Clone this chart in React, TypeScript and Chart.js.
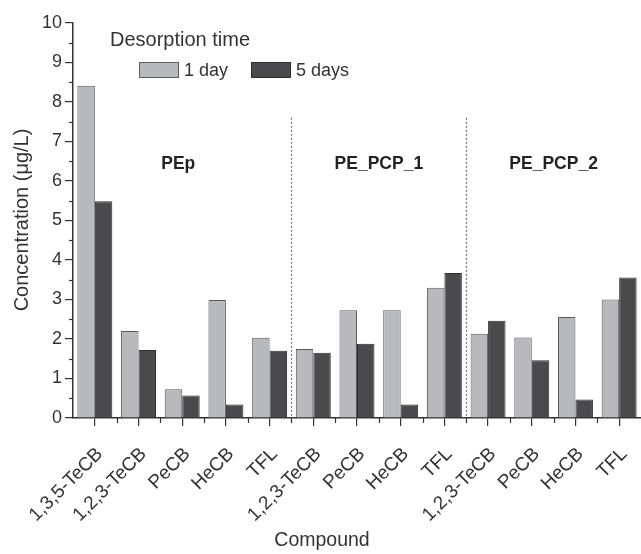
import { useEffect, useRef } from 'react';
import { Chart, registerables } from 'chart.js';
Chart.register(...registerables);

const categories = [
  '1,3,5-TeCB', '1,2,3-TeCB', 'PeCB', 'HeCB', 'TFL',
  '1,2,3-TeCB', 'PeCB', 'HeCB', 'TFL',
  '1,2,3-TeCB', 'PeCB', 'HeCB', 'TFL',
];
const seriesLabels = ['1 day', '5 days'];
const oneDay = [8.41, 2.2, 0.73, 2.99, 2.03, 1.75, 2.73, 2.73, 3.3, 2.13, 2.04, 2.56, 3.0];
const fiveDays = [5.49, 1.72, 0.57, 0.34, 1.7, 1.65, 1.88, 0.34, 3.67, 2.46, 1.46, 0.47, 3.56];
const groupNames = ['PEp', 'PE_PCP_1', 'PE_PCP_2'];
const groupFirst = [0, 5, 9];
const groupLast = [4, 8, 12];
const legendTitle = 'Desorption time';
const xTitle = 'Compound';
const yTitle = 'Concentration (\u03bcg/L)';
const yMin = 0;
const yMax = 10;
const yStep = 1;

const FONT = '"Liberation Sans", Arial, sans-serif';
const TXT = '#333';
const LIGHT = '#b8b9bd';
const LIGHT_BORDER = '#5a5a5a';
const DARK = '#4a4a4c';
const DARK_BORDER = '#2e2e2e';

export default function App() {
  const ref = useRef<HTMLCanvasElement>(null);
  useEffect(() => {
    if (!ref.current) return;
    const decor = {
      id: 'decor',
      afterDatasetsDraw(chart: any) {
        const ctx = chart.ctx;
        const xs = chart.scales.x;
        const ys = chart.scales.y;
        const ca = chart.chartArea;
        ctx.save();
        // minor ticks
        ctx.strokeStyle = '#333';
        ctx.lineWidth = 1.2;
        for (let v = yMin + yStep / 2; v < yMax; v += yStep) {
          const py = Math.round(ys.getPixelForValue(v)) + 0.5;
          ctx.beginPath();
          ctx.moveTo(ca.left - 4, py);
          ctx.lineTo(ca.left, py);
          ctx.stroke();
        }
        for (let i = 0; i < categories.length - 1; i++) {
          const px = Math.round((xs.getPixelForValue(i) + xs.getPixelForValue(i + 1)) / 2) + 0.5;
          ctx.beginPath();
          ctx.moveTo(px, ca.bottom);
          ctx.lineTo(px, ca.bottom + 5);
          ctx.stroke();
        }
        // group dividers
        ctx.strokeStyle = '#777';
        ctx.lineWidth = 1.2;
        ctx.setLineDash([2, 2]);
        for (let g = 1; g < groupNames.length; g++) {
          const px = Math.round((xs.getPixelForValue(groupLast[g - 1]) + xs.getPixelForValue(groupFirst[g])) / 2) + 0.5;
          ctx.beginPath();
          ctx.moveTo(px, ys.getPixelForValue(7.6));
          ctx.lineTo(px, ca.bottom);
          ctx.stroke();
        }
        ctx.setLineDash([]);
        // group labels
        ctx.fillStyle = '#222';
        ctx.font = `bold 17.5px ${FONT}`;
        ctx.textAlign = 'center';
        ctx.textBaseline = 'middle';
        for (let g = 0; g < groupNames.length; g++) {
          const cx = (xs.getPixelForValue(groupFirst[g]) + xs.getPixelForValue(groupLast[g])) / 2;
          ctx.fillText(groupNames[g], cx - (g === 0 ? 4 : 0), ys.getPixelForValue(6.43));
        }
        // legend
        ctx.fillStyle = TXT;
        ctx.font = `20px ${FONT}`;
        ctx.textAlign = 'left';
        ctx.fillText(legendTitle, ca.left + 37, 40);
        const ds = chart.data.datasets;
        const boxX = [ca.left + 66, ca.left + 178];
        for (let i = 0; i < ds.length; i++) {
          ctx.fillStyle = ds[i].backgroundColor;
          ctx.fillRect(boxX[i], 62, 40, 16);
          ctx.strokeStyle = ds[i].borderColor;
          ctx.lineWidth = 1;
          ctx.strokeRect(boxX[i] + 0.5, 62.5, 39, 15);
          ctx.fillStyle = TXT;
          ctx.font = `18px ${FONT}`;
          ctx.fillText(ds[i].label, boxX[i] + 45, 71);
        }
        // axis titles
        ctx.font = `19.5px ${FONT}`;
        ctx.textAlign = 'center';
        ctx.fillText(xTitle, 322, 541);
        ctx.save();
        ctx.translate(22, 220);
        ctx.rotate(-Math.PI / 2);
        ctx.font = `20px ${FONT}`;
        ctx.fillText(yTitle, 0, 0);
        ctx.restore();
        ctx.restore();
      },
    };
    const chart = new Chart(ref.current, {
      type: 'bar',
      data: {
        labels: categories,
        datasets: [
          {
            label: seriesLabels[0], data: oneDay, backgroundColor: LIGHT, borderColor: LIGHT_BORDER,
            borderWidth: 1, categoryPercentage: 0.8, barPercentage: 1,
          },
          {
            label: seriesLabels[1], data: fiveDays, backgroundColor: DARK, borderColor: DARK_BORDER,
            borderWidth: 1, categoryPercentage: 0.8, barPercentage: 1,
          },
        ],
      },
      options: {
        responsive: false,
        animation: false,
        layout: { padding: { top: 23, left: 0, right: 0, bottom: 0 } },
        plugins: { legend: { display: false }, tooltip: { enabled: false } },
        scales: {
          x: {
            offset: true,
            grid: { offset: false, drawOnChartArea: false, drawTicks: true, tickLength: 8, color: '#333', lineWidth: 1.2 },
            border: { color: '#333', width: 1.5 },
            ticks: {
              maxRotation: 45, minRotation: 45, autoSkip: false,
              font: { family: FONT, size: 19 }, color: TXT, padding: 17, labelOffset: 5,
            },
            afterFit: (s: any) => { s.height = 136; s.paddingLeft = 0; s.paddingRight = 0; },
          },
          y: {
            min: yMin, max: yMax,
            grid: { drawOnChartArea: false, drawTicks: true, tickLength: 8, color: '#333', lineWidth: 1.2 },
            border: { color: '#333', width: 1.5 },
            ticks: { stepSize: yStep, font: { family: FONT, size: 18 }, color: TXT, padding: 3 },
            afterFit: (s: any) => { s.width = 73; },
          },
        },
      },
      plugins: [decor],
    });
    return () => chart.destroy();
  }, []);
  return (
    <div style={{ position: 'absolute', left: 0, top: 0, width: 641, height: 554, background: '#fff' }}>
      <canvas ref={ref} width={641} height={554} style={{ display: 'block' }} />
    </div>
  );
}
